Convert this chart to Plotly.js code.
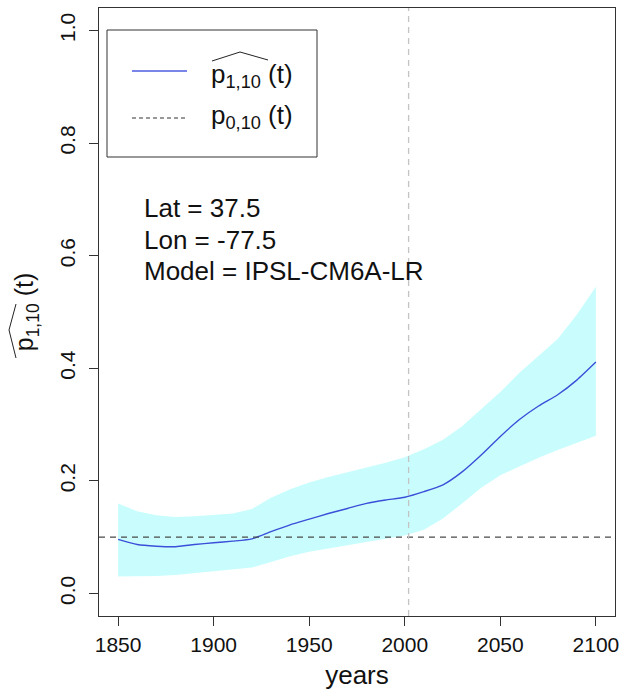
<!DOCTYPE html>
<html>
<head>
<meta charset="utf-8">
<script src="https://cdn.plot.ly/plotly-3.0.1.min.js"></script>
<style>html,body{margin:0;padding:0;background:#fff;}</style>
</head>
<body>
<div id="chart" style="width:620px;height:693px;"></div>
<script>
// ---- data ----
const years = [1850,1860,1870,1880,1890,1900,1910,1920,1930,1940,1950,1960,1970,1980,1990,2000,2010,2020,2030,2040,2050,2060,2070,2080,2090,2100];
const pHat  = [0.096,0.087,0.084,0.083,0.087,0.090,0.093,0.097,0.110,0.122,0.132,0.142,0.151,0.160,0.166,0.171,0.181,0.193,0.216,0.246,0.279,0.309,0.333,0.353,0.379,0.411];
const lower = [0.030,0.030,0.031,0.033,0.036,0.039,0.042,0.046,0.056,0.066,0.074,0.080,0.086,0.092,0.097,0.103,0.113,0.133,0.160,0.188,0.210,0.226,0.241,0.255,0.267,0.280];
const upper = [0.160,0.146,0.139,0.136,0.137,0.139,0.142,0.150,0.170,0.185,0.197,0.207,0.216,0.224,0.232,0.242,0.256,0.273,0.297,0.327,0.358,0.392,0.422,0.452,0.495,0.545];
const p0 = 0.1;
const refYear = 2002;
const xTicks = [1850,1900,1950,2000,2050,2100];
const yTicks = [0,0.2,0.4,0.6,0.8,1.0];
const yTickText = ['0.0','0.2','0.4','0.6','0.8','1.0'];
const infoLines = ['Lat = 37.5','Lon = -77.5','Model = IPSL-CM6A-LR'];
const legendLabels = ['p<sub>1,10</sub> (t)','p<sub>0,10</sub> (t)'];
const yTitle = 'p<sub>1,10</sub> (t)';
const xTitle = 'years';

// ---- geometry ----
const W = 620, H = 693, M = {l:99, r:5, t:8, b:77};
const PW = W - M.l - M.r, PH = H - M.t - M.b;
const px = v => (v - M.l) / PW;
const py = v => (H - M.b - v) / PH;
const FONT = 'Liberation Sans, Arial, sans-serif';

const traces = [
  {x: years, y: lower, type:'scatter', mode:'lines', line:{width:0, color:'rgba(0,0,0,0)'}, hoverinfo:'skip', showlegend:false},
  {x: years, y: upper, type:'scatter', mode:'lines', line:{width:0, color:'rgba(0,0,0,0)'}, fill:'tonexty', fillcolor:'#c9fdfd', hoverinfo:'skip', showlegend:false},
  {x: years, y: pHat, type:'scatter', mode:'lines', line:{color:'#3b4fd8', width:1.4, shape:'spline', smoothing:0.6}, showlegend:false}
];

const shapes = [
  {type:'line', xref:'paper', yref:'y', x0:0, x1:1, y0:p0, y1:p0, line:{color:'#4a4a4a', width:1.3, dash:'6px,5px'}},
  {type:'line', xref:'x', yref:'paper', x0:refYear, x1:refYear, y0:0, y1:1, line:{color:'#c4c4c4', width:1.3, dash:'6px,5px'}},
  {type:'rect', xref:'paper', yref:'paper', x0:px(107), x1:px(317), y0:py(157), y1:py(30), line:{color:'#333', width:1}, fillcolor:'rgba(255,255,255,0)'},
  {type:'line', xref:'paper', yref:'paper', x0:px(132), x1:px(187), y0:py(71), y1:py(71), line:{color:'#4d5ee0', width:1.4}},
  {type:'line', xref:'paper', yref:'paper', x0:px(132), x1:px(187), y0:py(118), y1:py(118), line:{color:'#333', width:1, dash:'4px,3px'}},
  {type:'path', xref:'paper', yref:'paper', path:`M ${px(212)} ${py(61)} L ${px(240)} ${py(52)} L ${px(268)} ${py(60)}`, line:{color:'#222', width:1}},
  {type:'path', xref:'paper', yref:'paper', path:`M ${px(16)} ${py(358)} L ${px(9)} ${py(330)} L ${px(16)} ${py(304)}`, line:{color:'#222', width:1}}
];

const annotations = [];
infoLines.forEach((t,i)=>{
  annotations.push({xref:'paper', yref:'paper', x:px(142), y:py(208 + i*31.7), xanchor:'left', yanchor:'middle', text:t, showarrow:false, font:{family:FONT, size:26, color:'#111'}});
});
legendLabels.forEach((t,i)=>{
  annotations.push({xref:'paper', yref:'paper', x:px(209), y:py(i===0?76:116), xanchor:'left', yanchor:'middle', text:t, showarrow:false, font:{family:FONT, size:26, color:'#111'}});
});

const layout = {
  width: W, height: H,
  margin: M,
  paper_bgcolor:'#fff', plot_bgcolor:'#fff',
  showlegend:false,
  font:{family:FONT, color:'#111', size:22},
  xaxis:{
    range:[1840,2110], tickvals:xTicks, ticks:'outside', ticklen:9, tickcolor:'#333', tickwidth:1,
    showline:true, mirror:true, linecolor:'#333', linewidth:1, showgrid:false, zeroline:false,
    tickfont:{family:FONT, size:21, color:'#111'}, ticklabelstandoff:1, ticklabeloverflow:'allow',
    title:{text:xTitle, font:{family:FONT, size:26, color:'#111'}, standoff:10}
  },
  yaxis:{
    range:[-0.04,1.04], tickvals:yTicks, ticktext:yTickText, ticks:'outside', ticklen:9, tickcolor:'#333', tickwidth:1,
    showline:true, mirror:true, linecolor:'#333', linewidth:1, showgrid:false, zeroline:false,
    tickangle:-90, tickfont:{family:FONT, size:21, color:'#111'}, ticklabelstandoff:6, ticklabeloverflow:'allow',
    title:{text:yTitle, font:{family:FONT, size:25, color:'#111'}, standoff:14}
  },
  shapes: shapes,
  annotations: annotations
};

Plotly.newPlot('chart', traces, layout, {staticPlot:true, displayModeBar:false});
</script>
</body>
</html>
